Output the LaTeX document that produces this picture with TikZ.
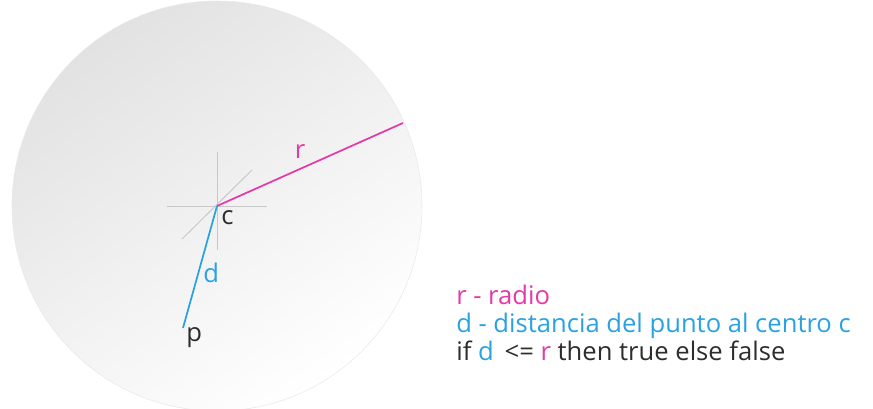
\documentclass[tikz,border=0pt]{standalone}
\usepackage{fontspec}
\setmainfont{Open Sans}
\usetikzlibrary{positioning}
\definecolor{radiuspink}{RGB}{228,58,168}
\definecolor{distblue}{RGB}{42,162,226}
\definecolor{darktext}{RGB}{45,45,45}
\definecolor{crossgray}{RGB}{200,200,200}
\definecolor{discgray}{RGB}{226,226,226}
\tikzset{
  lbl/.style={inner sep=0pt,font=\fontsize{19.2}{23}\selectfont},
  legend/.style={lbl,anchor=base west,text=darktext},
}

\begin{document}
\begin{tikzpicture}[x=0.75pt,y=-0.75pt]
\useasboundingbox (0,0) rectangle (873,409);
% disc
\shade[shading=axis,top color=discgray,bottom color=white,shading angle=35]
  (217,206) circle (205);
\draw[discgray!80,line width=0.4pt] (217,206) circle (205);
\coordinate (ctr) at (217,206);
\coordinate (rim) at (403,123);
\coordinate (pt) at (183,328);
% cross at the centre
\draw[crossgray,line width=0.7pt] (167,206) -- (267,206);
\draw[crossgray,line width=0.7pt] (217,152) -- (217,250);
\draw[crossgray,line width=0.7pt] (182,239) -- (252,170);
\draw[radiuspink,line width=1.3pt] (ctr) -- (rim);
\draw[distblue,line width=1.3pt] (ctr) -- (pt);
\node[lbl,anchor=base,text=radiuspink] (rlbl) at (300,159) {r};
\node[lbl,anchor=base west,text=darktext] (clbl) at (221,225) {c};
\node[lbl,anchor=base west,text=distblue] (dlbl) at (203,282) {d};
\node[lbl,anchor=base west,text=darktext] (plbl) at (186,341) {p};
% legend
\node[legend,text=radiuspink] (leg1) at (456,304) {r - radio};
\node[legend,text=distblue] (leg2) at (456,332) {d - distancia del punto al centro c};
\node[legend] (leg3) at (456,360)
  {if \textcolor{distblue}{d}\, <= \textcolor{radiuspink}{r} then true else false};
\end{tikzpicture}
\end{document}
